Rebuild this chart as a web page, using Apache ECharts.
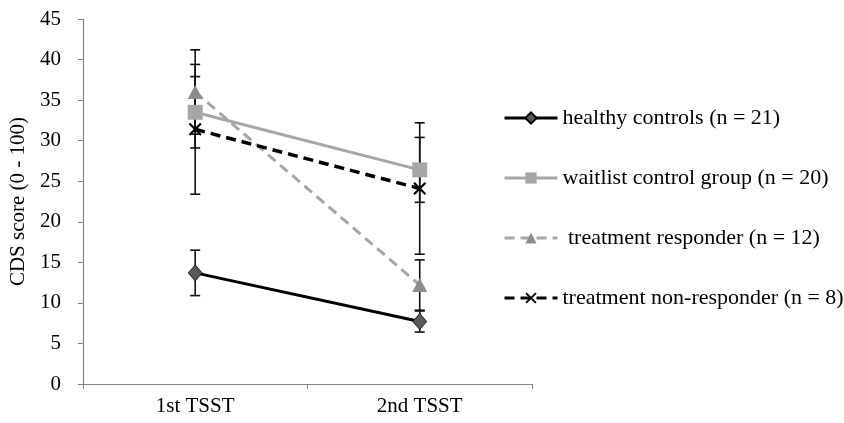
<!DOCTYPE html>
<html>
<head>
<meta charset="utf-8">
<script src="https://cdn.jsdelivr.net/npm/echarts@6/dist/echarts.min.js"></script>
<style>
html,body{margin:0;padding:0;background:#fff;}
#chart{width:844px;height:423px;}
</style>
</head>
<body>
<div id="chart"></div>
<script>
var categories = ['1st TSST', '2nd TSST'];
var seriesNames = ['healthy controls (n = 21)', 'waitlist control group (n = 20)', ' treatment responder (n = 12)', 'treatment non-responder (n = 8)'];
var healthy = [13.7, 7.7];
var waitlist = [33.5, 26.4];
var responder = [36.0, 12.2];
var nonResponder = [31.4, 24.1];
var healthyErr = [2.8, 1.3];
var waitlistErr = [4.4, 4.0];
var responderErr = [5.2, 3.1];
var nonResponderErr = [8.0, 8.1];
var yTicks = [0, 5, 10, 15, 20, 25, 30, 35, 40, 45];
var yAxisTitle = 'CDS score (0 - 100)';

var FONT = '"Liberation Serif", "DejaVu Serif", serif';
var FS = 21;
var LFS = 22;
var xPath = 'path://M0,1.2 L1.2,0 L5,3.8 L8.8,0 L10,1.2 L6.2,5 L10,8.8 L8.8,10 L5,6.2 L1.2,10 L0,8.8 L3.8,5 Z';

function errData(vals, errs) {
  return vals.map(function (v, i) { return [i, v - errs[i], v + errs[i]]; });
}

function errSeries(vals, errs, color) {
  return {
    type: 'custom',
    name: 'err',
    z: 1,
    silent: true,
    data: errData(vals, errs),
    encode: { x: 0, y: [1, 2] },
    renderItem: function (params, api) {
      var x = api.value(0);
      var lo = api.coord([x, api.value(1)]);
      var hi = api.coord([x, api.value(2)]);
      var hw = 5;
      var st = { stroke: color, lineWidth: 1.6 };
      return {
        type: 'group',
        children: [
          { type: 'line', shape: { x1: lo[0], y1: lo[1], x2: hi[0], y2: hi[1] }, style: st },
          { type: 'line', shape: { x1: lo[0] - hw, y1: lo[1], x2: lo[0] + hw, y2: lo[1] }, style: st },
          { type: 'line', shape: { x1: hi[0] - hw, y1: hi[1], x2: hi[0] + hw, y2: hi[1] }, style: st }
        ]
      };
    }
  };
}

var chart = echarts.init(document.getElementById('chart'), null, { renderer: 'canvas' });
chart.setOption({
  animation: false,
  backgroundColor: '#ffffff',
  grid: { left: 80, right: 312, top: 19, bottom: 39, containLabel: false },
  legend: {
    orient: 'vertical',
    left: 498,
    top: 102,
    itemWidth: 53,
    itemHeight: 14,
    itemGap: 38,
    data: seriesNames,
    lineStyle: { width: 3 },
    textStyle: { fontFamily: FONT, fontSize: LFS, lineHeight: 22, color: '#000' },
    selectedMode: false
  },
  xAxis: {
    type: 'category',
    data: categories,
    boundaryGap: true,
    axisLine: { lineStyle: { color: '#868686', width: 1.2 } },
    axisTick: { show: true, alignWithLabel: false, length: 5, lineStyle: { color: '#868686' } },
    axisLabel: { fontFamily: FONT, fontSize: FS, color: '#000', margin: 12 },
    splitLine: { show: false }
  },
  yAxis: {
    type: 'value',
    min: yTicks[0],
    max: yTicks[yTicks.length - 1],
    interval: 5,
    name: yAxisTitle,
    nameLocation: 'middle',
    nameGap: 50,
    nameTextStyle: { fontFamily: FONT, fontSize: FS, color: '#000' },
    axisLine: { show: true, lineStyle: { color: '#868686', width: 1.2 } },
    axisTick: { show: true, length: 5, lineStyle: { color: '#868686' } },
    axisLabel: { fontFamily: FONT, fontSize: FS, color: '#000', margin: 22 },
    splitLine: { show: false }
  },
  series: [
    errSeries(healthy, healthyErr, '#111'),
    errSeries(waitlist, waitlistErr, '#111'),
    errSeries(responder, responderErr, '#111'),
    errSeries(nonResponder, nonResponderErr, '#111'),
    {
      name: seriesNames[0], type: 'line', data: healthy, z: 3,
      symbol: 'diamond', symbolSize: [14, 16],
      lineStyle: { color: '#000', width: 3 },
      itemStyle: { color: '#595959', borderColor: '#000', borderWidth: 0.8 }
    },
    {
      name: seriesNames[1], type: 'line', data: waitlist, z: 3,
      symbol: 'rect', symbolSize: 15,
      lineStyle: { color: '#a6a6a6', width: 3 },
      itemStyle: { color: '#a6a6a6', borderColor: '#a6a6a6', borderWidth: 0 }
    },
    {
      name: seriesNames[2], type: 'line', data: responder, z: 3,
      symbol: 'triangle', symbolSize: [15, 14],
      lineStyle: { color: '#a6a6a6', width: 3, type: [10, 6] },
      itemStyle: { color: '#8c8c8c', borderWidth: 0 }
    },
    {
      name: seriesNames[3], type: 'line', data: nonResponder, z: 3,
      symbol: xPath, symbolSize: 13,
      lineStyle: { color: '#000', width: 3.5, type: [10, 6] },
      itemStyle: { color: '#000', borderWidth: 0 }
    }
  ]
});
</script>
</body>
</html>
